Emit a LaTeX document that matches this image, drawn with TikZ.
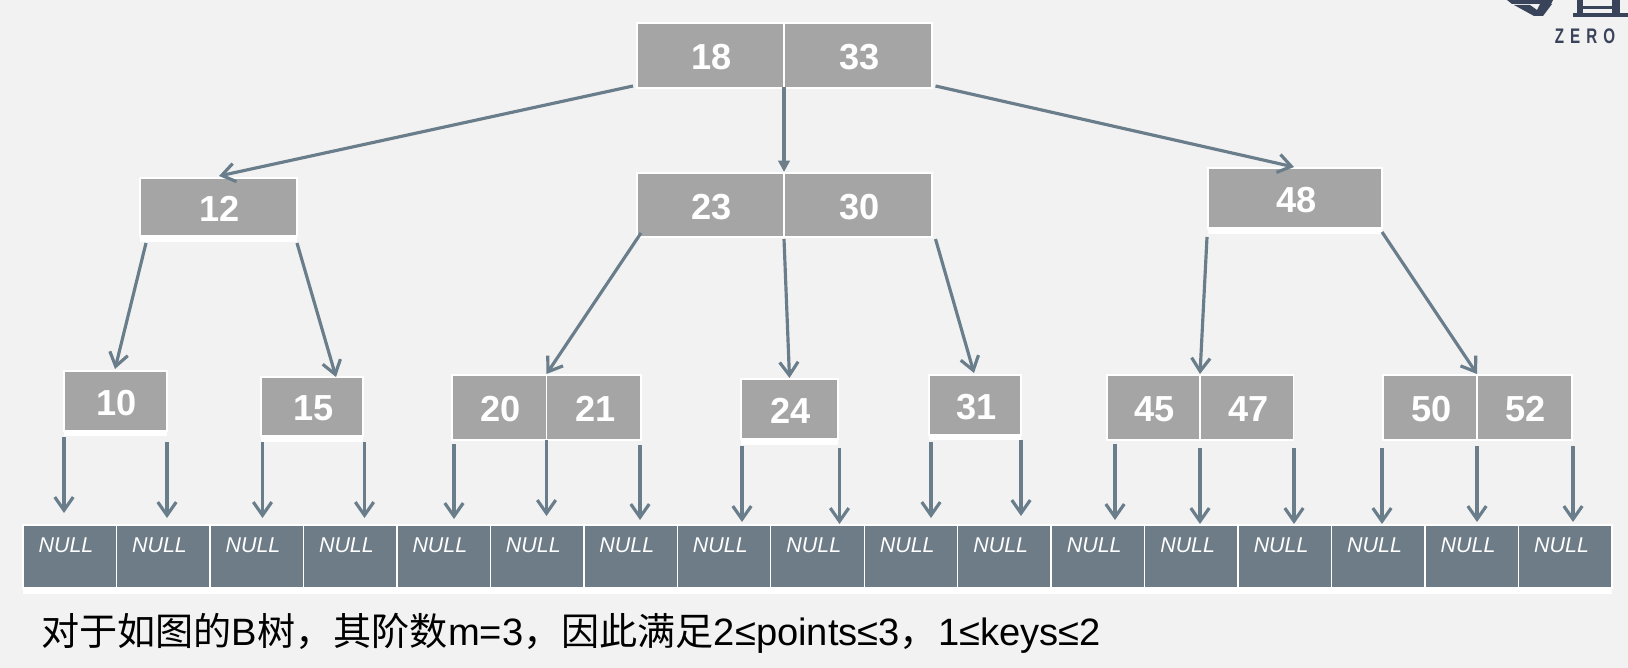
\documentclass[tikz,border=0pt]{standalone}
\usepackage{fontspec}
\setmainfont{Liberation Sans}
\newfontfamily\cjk{Noto Sans CJK SC}
\usetikzlibrary{calc, arrows.meta}
\definecolor{pagegrey}{HTML}{F2F2F2}
\definecolor{keygrey}{HTML}{A5A5A5}
\definecolor{slate}{HTML}{6D7C87}
\definecolor{linkslate}{HTML}{6A7D8B}
\definecolor{logoink}{HTML}{39445A}

\tikzset{
    keybox/.style={draw=white, line width=0.8pt, fill=keygrey, anchor=north west,
        inner sep=0pt, outer sep=0pt, text=white, text height=16.2pt,
        font=\fontsize{20.6}{24}\selectfont\bfseries},
    nullcell/.style={draw=white, line width=0.8pt, fill=slate, anchor=north west,
        inner sep=0pt, outer sep=0pt, minimum width=1.8694cm, minimum height=1.26cm},
    nulltext/.style={text=white, inner sep=0pt, font=\fontsize{12.2}{14}\selectfont\itshape},
    link/.style={draw=linkslate, line width=1.8pt, -{Straight Barb[length=7.5pt,width=10.5pt]}},
    solidlink/.style={draw=linkslate!85!gray, line width=1.8pt, -{Triangle[length=6.5pt,width=6.5pt]}}
}

\begin{document}
\begin{tikzpicture}[x=0.02cm, y=-0.02cm]

% --- MACRO: KEY BOX ---
% #1: Key, #2-#3: Top left, #4-#5: Bottom right
\newcommand{\drawKey}[5]{
    \pgfmathsetmacro{\boxW}{(#4-#2)*0.02}
    \pgfmathsetmacro{\boxH}{(#5-#3)*0.02}
    \node[keybox, minimum width=\boxW cm, minimum height=\boxH cm] (key#1) at (#2,#3) {\hspace{1.6pt}#1};
}

% Background
\fill[pagegrey] (0,0) rectangle (1628,668);

% --- LOGO ---
\fill[logoink] (1507,0) -- (1553,0) -- (1551,4) -- (1512,4) -- cycle;
\fill[logoink] (1514,5) -- (1534,16) -- (1543,16) -- (1552,4) -- (1540,4) -- (1537,10) -- (1530,5) -- cycle;
\fill[logoink] (1573,13) rectangle (1628,17);
\fill[logoink] (1577,0) rectangle (1583,13);
\fill[logoink] (1612,0) rectangle (1620,13);
\fill[logoink] (1577,6) rectangle (1620,9);
\node[text=logoink, inner sep=0pt, font=\fontsize{12}{14}\selectfont\bfseries\addfontfeature{LetterSpace=40}] (zero) at (1585,36)
    {\scalebox{0.72}[1]{ZERO}};

% --- KEYS ---
\drawKey{18}{637}{23}{784}{88}
\drawKey{33}{784}{23}{932}{88}
\drawKey{12}{140}{178}{297}{236}
\drawKey{23}{637}{173}{784}{237}
\drawKey{30}{784}{173}{932}{237}
\drawKey{48}{1208}{168}{1382}{228}
\drawKey{10}{64}{371}{167}{431}
\drawKey{15}{261}{377}{363}{436}
\drawKey{20}{452}{375}{546.5}{440}
\drawKey{21}{546.5}{375}{641}{440}
\drawKey{24}{741}{379}{838}{439}
\drawKey{31}{929}{375}{1021}{435}
\drawKey{45}{1107}{375}{1200}{440}
\drawKey{47}{1200}{375}{1293.5}{440}
\drawKey{50}{1383}{375}{1477}{440}
\drawKey{52}{1477}{375}{1572}{440}

% --- NULL ROW ---
\foreach \i in {1,...,17} {
    \node[nullcell] (null\i) at ({23+93.47*(\i-1)},525) {};
    \node[nulltext] (nulltext\i) at ($(null\i.north)+(-3.7,20)$) {NULL};
}

% White strips under some boxes
\foreach \n/\h in {key12/6, key48/6, key10/5, key15/6, key24/6, key31/5} {
    \fill[white] (\n.south west) rectangle ($(\n.south east)+(0,\h)$);
}
\fill[white] (null1.south west) rectangle ($(null17.south east)+(0,6)$);

% --- TREE LINKS ---
\foreach \a/\ax/\ay/\b/\bx/\by in {
    key18.south west/-4/-2/key12.north/0.5/-2,
    key33.south east/3.5/-2/key48.north/-1/-1,
    key12.south west/6/7/key10.north/-0.5/-2,
    key12.south east/0/7/key15.north/24/0,
    key23.south west/4/-4/key20.north east/0/-1,
    key23.south east/0/2/key24.north/0/-1,
    key30.south east/3.5/2/key31.north/-1/-2,
    key48.south west/-1/9/key45.north east/0/-1,
    key48.south east/0/4/key50.north east/0/-1} {
    \draw[link] ($(\a)+(\ax,\ay)$) -- ($(\b)+(\bx,\by)$);
}
\draw[solidlink] ($(key18.south east)+(0,-1)$) -- ($(key23.north east)+(0,-1)$);

% --- LINKS TO NULL ROW ---
% \dx: Shift in x, \ds: Gap at start, \dt: Gap at tip
\foreach \a/\dx/\ds/\dt in {
    key10.south west/0/6/-12, key10.south east/0/11/-7,
    key15.south west/1.5/6/-7, key15.south east/1.5/6/-7,
    key20.south west/2/4/-6, key20.south east/0/0/-9, key21.south east/-1/5/-5,
    key24.south west/1/7/-3, key24.south east/1.5/9/-1,
    key31.south west/2/7/-7, key31.south east/0/5/-9,
    key45.south west/8/4/-5, key45.south east/0/8/-1, key47.south east/0.5/8/-1,
    key50.south west/-1/8/-1, key50.south east/0/6/-3, key52.south east/1/6/-3} {
    \draw[link] ($(\a)+(\dx,\ds)$) -- ($(\a |- null1.north)+(\dx,\dt)$);
}

% --- CAPTION ---
\node[anchor=base west, inner sep=0pt, text=black, font=\fontsize{21.7}{25}\selectfont] (caption) at (41,645)
    {{\cjk 对于如图的}B{\cjk 树，其阶数}m=3{\cjk ，因此满足}2≤points≤3{\cjk ，}1≤keys≤2};

\end{tikzpicture}
\end{document}
